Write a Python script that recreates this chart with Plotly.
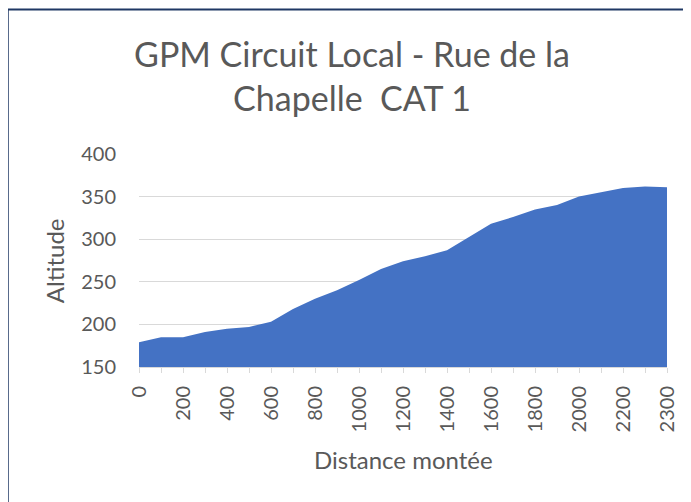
import plotly.graph_objects as go

# ---- data ----
distances = ["0", "100", "200", "300", "400", "500", "600", "700", "800", "900",
             "1000", "1100", "1200", "1300", "1400", "1500", "1600", "1700", "1800",
             "1900", "2000", "2100", "2200", "2250", "2300"]
altitude = [179, 185, 185, 191, 195, 197, 203, 218, 230, 240, 252, 265, 274, 280,
            287, 302, 318, 326, 335, 340, 350, 355, 360, 362, 361]
y_ticks = [150, 200, 250, 300, 350, 400]

title_text = "GPM Circuit Local - Rue de la<br>Chapelle\u00a0 CAT 1"
x_title = "Distance montée"
y_title = "Altitude"

# ---- layout geometry (page offset of 8px from the body margin) ----
OFF = 8
W, H = 691 - OFF, 502 - OFF
ML = 139.3 - OFF
MR = W - (667.5 - OFF)
MT = 154 - OFF
MB = H - (367 - OFF)
PW = W - ML - MR
PH = H - MT - MB

def px_x(p):
    return (p - OFF - ML) / PW

def px_y(p):
    return (H - MB - (p - OFF)) / PH

idx = list(range(len(distances)))
label_idx = [i for i in idx if i % 2 == 0]

FONT = "Lato"
GREY = "#595959"

fig = go.Figure()
fig.add_trace(go.Scatter(
    x=idx, y=altitude, mode="lines", fill="tozeroy",
    line=dict(color="#4472C4", width=0), fillcolor="#4472C4",
    hoverinfo="x+y", showlegend=False,
))

fig.update_layout(
    width=W, height=H,
    margin=dict(l=ML, r=MR, t=MT, b=MB, pad=0),
    paper_bgcolor="white", plot_bgcolor="white",
    font=dict(family=FONT, color=GREY, size=20),
    title=dict(text=title_text, x=(352 - OFF) / W, xanchor="center", xref="container",
               y=1 - 59 / H, yanchor="top", yref="container",
               font=dict(family=FONT, size=34, color=GREY)),
    xaxis=dict(
        range=[0, len(distances) - 1], showgrid=False, zeroline=False,
        showline=True, linecolor="#D9D9D9", linewidth=1,
        tickmode="array", tickvals=label_idx,
        ticktext=[distances[i] for i in label_idx],
        ticks="outside", ticklen=5, tickcolor="#D9D9D9", tickwidth=1,
        tickangle=-90, tickfont=dict(size=20, color=GREY, family=FONT),
        minor=dict(dtick=1, ticks="outside", ticklen=5, tickcolor="#D9D9D9", tickwidth=1),
        ticklabelstandoff=5,
    ),
    yaxis=dict(
        range=[150, 400], tickmode="array", tickvals=y_ticks,
        showgrid=True, gridcolor="#D9D9D9", gridwidth=1, zeroline=False,
        showline=False, ticks="", ticklabelstandoff=22,
        tickfont=dict(size=20, color=GREY, family=FONT),
    ),
    annotations=[
        dict(text=x_title, xref="paper", yref="paper", x=0.5, y=px_y(460),
             xanchor="center", yanchor="middle", showarrow=False,
             font=dict(size=24, color=GREY, family=FONT)),
        dict(text=y_title, xref="paper", yref="paper", x=px_x(55), y=0.5,
             xanchor="center", yanchor="middle", showarrow=False, textangle=-90,
             font=dict(size=24, color=GREY, family=FONT)),
    ],
    shapes=[
        dict(type="line", xref="paper", yref="paper", x0=px_x(8), x1=px_x(720),
             y0=px_y(9.5), y1=px_y(9.5), line=dict(color="#1F3864", width=2)),
        dict(type="line", xref="paper", yref="paper", x0=px_x(8), x1=px_x(8),
             y0=px_y(9), y1=px_y(520), line=dict(color="#1F3864", width=2)),
    ],
)

fig.write_html("out.html")
